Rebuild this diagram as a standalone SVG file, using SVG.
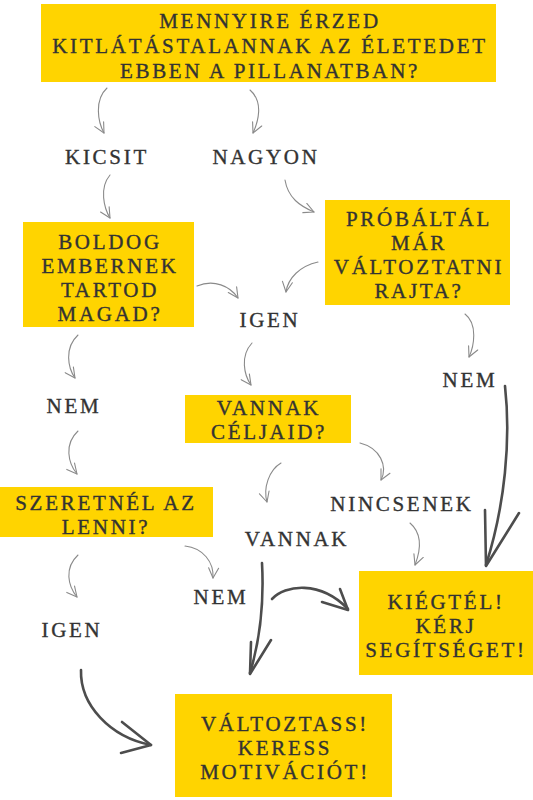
<svg xmlns="http://www.w3.org/2000/svg" width="533" height="800" viewBox="0 0 533 800">
<style>
.box{fill:#FFD400}
.t{font-family:"Liberation Serif","Times New Roman",serif;font-size:21px;fill:#333;stroke:#333;stroke-width:0.35px;letter-spacing:2.7px;text-anchor:middle}
.thin{fill:none;stroke:#8a8a8a;stroke-width:1.1;stroke-linecap:round}
.thick{fill:none;stroke:#4d4d4d;stroke-width:2.6;stroke-linecap:round;stroke-linejoin:round}
</style>
<defs>
<marker id="ah" viewBox="0 0 12 12" refX="11" refY="6" markerWidth="12" markerHeight="12" markerUnits="userSpaceOnUse" orient="auto">
<path d="M1,1 L11,6 L1,11" fill="none" stroke="#8a8a8a" stroke-width="1.1" stroke-linecap="round" stroke-linejoin="round"/>
</marker>
</defs>
<rect width="533" height="800" fill="#fff"/>

<g id="n-top">
<rect class="box" x="41" y="4" width="455" height="78"/>
<text class="t" x="270" y="27.5">MENNYIRE ÉRZED</text>
<text class="t" x="270" y="52.5">KITLÁTÁSTALANNAK AZ ÉLETEDET</text>
<text class="t" x="270" y="77.5">EBBEN A PILLANATBAN?</text>
</g>
<g id="n-kicsit"><text class="t" x="107" y="164">KICSIT</text></g>
<g id="n-nagyon"><text class="t" x="266" y="164">NAGYON</text></g>
<g id="n-boldog">
<rect class="box" x="23" y="222" width="171" height="105"/>
<text class="t" x="110" y="249">BOLDOG</text>
<text class="t" x="110" y="273">EMBERNEK</text>
<text class="t" x="110" y="297">TARTOD</text>
<text class="t" x="110" y="321">MAGAD?</text>
</g>
<g id="n-probaltal">
<rect class="box" x="325" y="200" width="185" height="105"/>
<text class="t" x="419" y="226">PRÓBÁLTÁL</text>
<text class="t" x="419" y="249.5">MÁR</text>
<text class="t" x="419" y="274">VÁLTOZTATNI</text>
<text class="t" x="419" y="297.5">RAJTA?</text>
</g>
<g id="n-igen1"><text class="t" x="270" y="327">IGEN</text></g>
<g id="n-nem1"><text class="t" x="470" y="387">NEM</text></g>
<g id="n-nem2"><text class="t" x="74" y="413">NEM</text></g>
<g id="n-celjaid">
<rect class="box" x="185" y="395" width="166" height="48"/>
<text class="t" x="269" y="414.5">VANNAK</text>
<text class="t" x="269" y="439">CÉLJAID?</text>
</g>
<g id="n-nincsenek"><text class="t" x="402" y="510.5">NINCSENEK</text></g>
<g id="n-szeretnel">
<rect class="box" x="0" y="487" width="213" height="50"/>
<text class="t" x="106" y="509.5">SZERETNÉL AZ</text>
<text class="t" x="106" y="533.5">LENNI?</text>
</g>
<g id="n-vannak"><text class="t" x="297" y="545.5">VANNAK</text></g>
<g id="n-nem3"><text class="t" x="221" y="604">NEM</text></g>
<g id="n-igen2"><text class="t" x="72" y="637">IGEN</text></g>
<g id="n-kiegtel">
<rect class="box" x="359" y="571" width="174" height="104"/>
<text class="t" x="446" y="609">KIÉGTÉL!</text>
<text class="t" x="446" y="633">KÉRJ</text>
<text class="t" x="446" y="657">SEGÍTSÉGET!</text>
</g>
<g id="n-valtoztass">
<rect class="box" x="175" y="694" width="217" height="103"/>
<text class="t" x="285" y="731">VÁLTOZTASS!</text>
<text class="t" x="285" y="755">KERESS</text>
<text class="t" x="285" y="779">MOTIVÁCIÓT!</text>
</g>

<g id="connectors">
<path class="thin" marker-end="url(#ah)" d="M107,88 C94,100 98,122 104,133"/>
<path class="thin" marker-end="url(#ah)" d="M250,90 C264,102 258,122 253,133"/>
<path class="thin" marker-end="url(#ah)" d="M110,175 C99,188 104,208 110,218"/>
<path class="thin" marker-end="url(#ah)" d="M285,180 C288,198 300,206 314,212"/>
<path class="thin" marker-end="url(#ah)" d="M318,262 C300,266 288,278 286,292"/>
<path class="thin" marker-end="url(#ah)" d="M197,286 C214,279 230,286 238,298"/>
<path class="thin" marker-end="url(#ah)" d="M465,314 C478,324 474,346 469,357"/>
<path class="thin" marker-end="url(#ah)" d="M78,335 C64,348 68,368 75,378"/>
<path class="thin" marker-end="url(#ah)" d="M252,343 C240,356 244,375 251,385"/>
<path class="thin" marker-end="url(#ah)" d="M78,431 C64,444 68,463 77,474"/>
<path class="thin" marker-end="url(#ah)" d="M360,443 C380,448 388,466 381,480"/>
<path class="thin" marker-end="url(#ah)" d="M281,463 C269,470 263,488 267,502"/>
<path class="thin" marker-end="url(#ah)" d="M78,555 C64,568 68,586 77,597"/>
<path class="thin" marker-end="url(#ah)" d="M185,546 C203,548 214,562 213,578"/>
<path class="thin" marker-end="url(#ah)" d="M410,523 C424,535 420,552 415,565"/>

<path class="thick" d="M505,386 C511,440 505,505 486,565"/>
<path class="thick" d="M485,510 L486,566 L519,513"/>
<path class="thick" d="M262,563 C264,600 260,640 250,673"/>
<path class="thick" d="M251,642 L250,674 L271,640"/>
<path class="thick" d="M272,599 C285,585 320,580 348,609"/>
<path class="thick" d="M322,602 L348,610 L340,589"/>
<path class="thick" d="M81,670 C80,705 110,737 151,745"/>
<path class="thick" d="M122,722 L151,745 L121,753"/>
</g>
</svg>
